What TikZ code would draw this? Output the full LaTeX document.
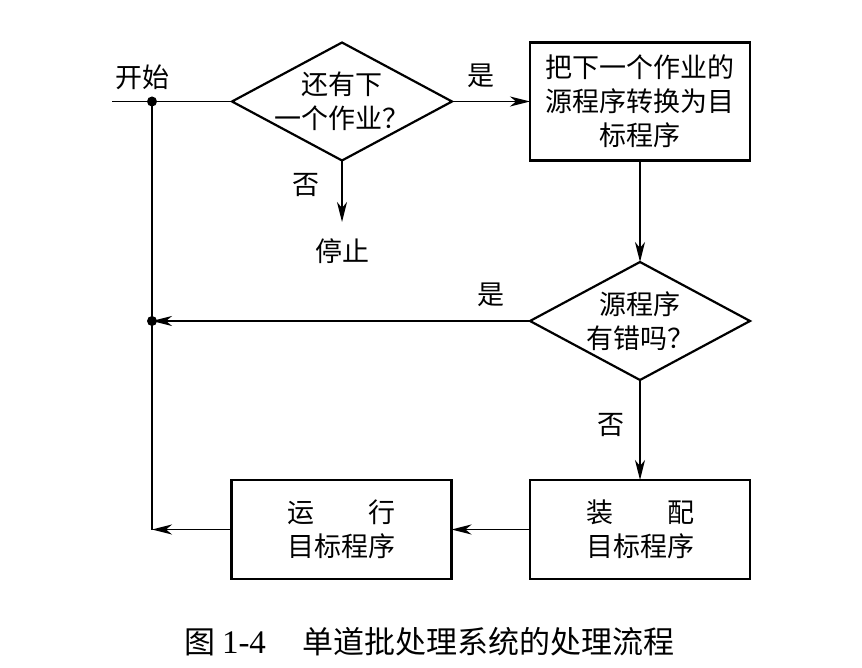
\documentclass[tikz,border=0pt]{standalone}
\usepackage{fontspec}
\setmainfont{Liberation Serif}
\newfontfamily\cjk{Noto Sans CJK SC}
\usetikzlibrary{arrows.meta,shapes.geometric}
\begin{document}
\begin{tikzpicture}[x=1pt,y=-1pt,
  shapeline/.style={draw, line width=2.2pt, inner sep=0pt, outer sep=0pt},
  boxnode/.style={shapeline, rectangle, minimum width=220pt},
  dianode/.style={shapeline, diamond, minimum width=220pt, minimum height=118pt},
  txt/.style={align=center, inner sep=0pt, font=\cjk\fontsize{27}{34}\selectfont},
  lbl/.style={inner sep=0pt, font=\cjk\fontsize{27}{34}\selectfont},
  conn/.style={line width=1.7pt},
  arr/.style={conn, -{Stealth[length=20pt, width=10pt, inset=6pt]}},
  dot/.style={circle, fill=black, inner sep=0pt, minimum size=10pt}
]
\useasboundingbox (0,0) rectangle (862,668);

% shapes
\node[dianode] (d1) at (342,101.5) {};
\node[txt] (d1t) at (342,101.5) {还有下\\一个作业？};
\node[boxnode, minimum height=118pt, txt] (b1) at (640,101.5) {把下一个作业的\\源程序转换为目\\标程序};
\node[dianode] (d2) at (640,321) {};
\node[txt] (d2t) at (640,321) {源程序\\有错吗？};
\node[boxnode, minimum height=99pt, txt] (b3) at (640,529.5) {装\hspace{2em}配\\目标程序};
\node[boxnode, minimum height=99pt, txt] (b2) at (341.5,529.5) {运\hspace{2em}行\\目标程序};

% junctions and free ends
\coordinate (s0) at (112,101.5);
\coordinate (j1) at (152,101.5);
\coordinate (j2) at (152,321);
\coordinate (j3) at (152,529.5);
\coordinate (s1) at (342,222);

% texts
\node[lbl] (start) at (142,77) {开始};
\node[lbl] (stop) at (342,251) {停止};
\node[lbl] (yes1) at (481,76) {是};
\node[lbl] (no1) at (306,185) {否};
\node[lbl] (yes2) at (491,295) {是};
\node[lbl] (no2) at (611,425) {否};

% connectors
\draw[conn] (s0) -- (d1.west);
\draw[conn] (j1) -- (j3);
\draw[arr] (d1.east) -- (b1.west);
\draw[arr] (d1.south) -- (s1);
\draw[arr] (b1.south) -- (d2.north);
\draw[arr] (d2.west) -- (j2);
\draw[arr] (d2.south) -- (b3.north);
\draw[arr] (b3.west) -- (b2.east);
\draw[arr] (b2.west) -- (j3);

\node[dot] (dot1) at (j1) {};
\node[dot] (dot2) at (j2) {};

% caption
\node[inner sep=0pt, font=\cjk\fontsize{31}{36}\selectfont] (cap1) at (200,642) {图};
\node[inner sep=0pt, font=\fontsize{33}{36}\selectfont] (cap2) at (244,643) {1-4};
\node[inner sep=0pt, font=\cjk\fontsize{31}{36}\selectfont] (cap3) at (488,642) {单道批处理系统的处理流程};
\end{tikzpicture}
\end{document}
